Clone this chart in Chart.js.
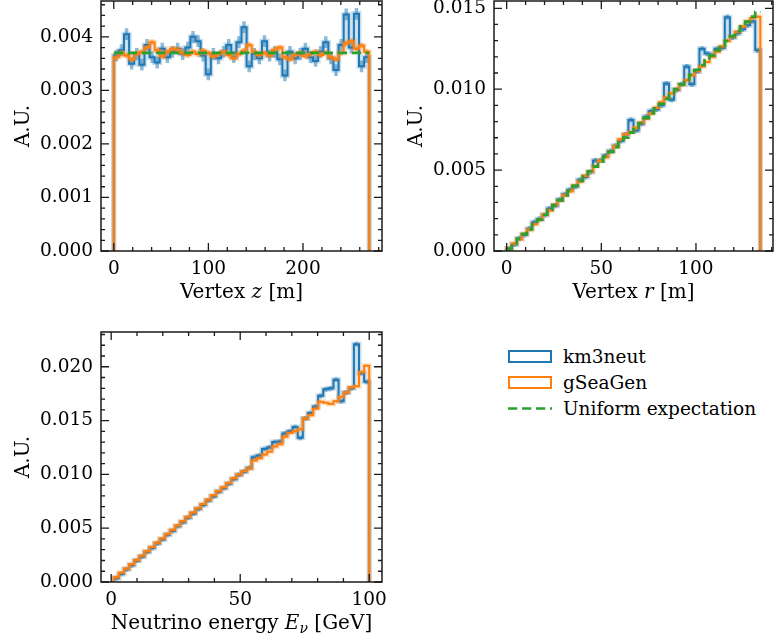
<!DOCTYPE html>
<html>
<head>
<meta charset="utf-8">
<script src="https://cdn.jsdelivr.net/npm/chart.js@4.4.1/dist/chart.umd.min.js"></script>
<style>
  body { margin: 0; background: #fff; width: 774px; height: 644px; position: relative; overflow: hidden; font-family: 'DejaVu Serif', serif; }
  .panel { position: absolute; }
  #legend { position: absolute; left: 508px; top: 343px; font-size: 18.5px; color: #000; }
  .row { display: flex; align-items: center; height: 26px; }
  .sw { width: 44px; height: 13px; box-sizing: border-box; margin-right: 11px; }
</style>
</head>
<body>
<canvas id="cZ" class="panel" style="left:0;top:0" width="390" height="310"></canvas>
<canvas id="cR" class="panel" style="left:395px;top:0" width="379" height="310"></canvas>
<canvas id="cE" class="panel" style="left:0;top:320px" width="390" height="324"></canvas>
<div id="legend">
  <div class="row"><div class="sw" style="border:2px solid #1f77b4"></div>km3neut</div>
  <div class="row"><div class="sw" style="border:2px solid #ff7f0e"></div>gSeaGen</div>
  <div class="row"><svg class="sw" width="44" height="13"><line x1="0" y1="6.5" x2="44" y2="6.5" stroke="#2ca02c" stroke-width="2.7" stroke-dasharray="9.3 4.7"/></svg>Uniform expectation</div>
</div>
<script>
const FONT = "'DejaVu Serif', serif";
const BLUE = '#1f77b4', ORANGE = '#ff7f0e', GREEN = '#2ca02c';

/* ---------- Vertex z: 50 bins over 0..270 m ---------- */
const Z_RANGE = [0, 270];
const Z_KM3 = [
  0.00365, 0.00375, 0.00405, 0.00350, 0.00368, 0.00348, 0.00385, 0.00362, 0.00352, 0.00378,
  0.00362, 0.00372, 0.00378, 0.00368, 0.00380, 0.00400, 0.00392, 0.00365, 0.00330, 0.00368,
  0.00360, 0.00372, 0.00385, 0.00362, 0.00390, 0.00418, 0.00345, 0.00368, 0.00360, 0.00392,
  0.00365, 0.00372, 0.00358, 0.00328, 0.00372, 0.00360, 0.00368, 0.00378, 0.00362, 0.00355,
  0.00372, 0.00390, 0.00360, 0.00338, 0.00385, 0.00442, 0.00380, 0.00443, 0.00345, 0.00362
];
const Z_GSG = [
  0.00362, 0.00370, 0.00365, 0.00358, 0.00368, 0.00372, 0.00380, 0.00390, 0.00375, 0.00364,
  0.00372, 0.00378, 0.00376, 0.00370, 0.00366, 0.00372, 0.00368, 0.00374, 0.00370, 0.00364,
  0.00368, 0.00372, 0.00366, 0.00360, 0.00368, 0.00374, 0.00385, 0.00372, 0.00366, 0.00370,
  0.00365, 0.00376, 0.00380, 0.00362, 0.00358, 0.00366, 0.00370, 0.00364, 0.00368, 0.00372,
  0.00366, 0.00370, 0.00362, 0.00358, 0.00370, 0.00388, 0.00392, 0.00378, 0.00384, 0.00372
];
const Z_UNIFORM = [0.0037, 0.0037];
const Z_ERR = { km3: 0.00011, gsg: 0.00005 };   // half length of the error bars
const Z_XTICKS = [0, 100, 200];
const Z_YTICKS = [0, 0.001, 0.002, 0.003, 0.004];

/* ---------- Vertex r: 50 bins over 0..134 m ---------- */
const R_RANGE = [0, 134];
const R_KM3 = [
  0.00014, 0.00040, 0.00078, 0.00100, 0.00138, 0.00178, 0.00198, 0.00222, 0.00262, 0.00280,
  0.00318, 0.00350, 0.00378, 0.00398, 0.00440, 0.00458, 0.00488, 0.00560, 0.00560, 0.00590,
  0.00618, 0.00650, 0.00680, 0.00720, 0.00810, 0.00745, 0.00785, 0.00830, 0.00865, 0.00875,
  0.00900, 0.01035, 0.00935, 0.00995, 0.01030, 0.01140, 0.01030, 0.01110, 0.01250, 0.01220,
  0.01210, 0.01250, 0.01255, 0.01445, 0.01320, 0.01345, 0.01370, 0.01395, 0.01420, 0.01240
];
const R_GSG = [
  0.00016, 0.00046, 0.00072, 0.00106, 0.00132, 0.00166, 0.00192, 0.00226, 0.00250, 0.00286,
  0.00312, 0.00345, 0.00370, 0.00405, 0.00430, 0.00465, 0.00490, 0.00525, 0.00558, 0.00580,
  0.00612, 0.00648, 0.00690, 0.00722, 0.00735, 0.00762, 0.00792, 0.00818, 0.00850, 0.00885,
  0.00920, 0.00948, 0.00975, 0.01000, 0.01028, 0.01055, 0.01085, 0.01112, 0.01140, 0.01168,
  0.01200, 0.01232, 0.01265, 0.01298, 0.01325, 0.01355, 0.01388, 0.01418, 0.01440, 0.01448
];
const R_UNIFORM = [
  0.00015, 0.00045, 0.00075, 0.00104, 0.00134, 0.00164, 0.00194, 0.00224, 0.00254, 0.00284,
  0.00313, 0.00343, 0.00373, 0.00403, 0.00433, 0.00463, 0.00493, 0.00522, 0.00552, 0.00582,
  0.00612, 0.00642, 0.00672, 0.00701, 0.00731, 0.00761, 0.00791, 0.00821, 0.00851, 0.00881,
  0.00910, 0.00940, 0.00970, 0.01000, 0.01030, 0.01060, 0.01090, 0.01119, 0.01149, 0.01179,
  0.01209, 0.01239, 0.01269, 0.01298, 0.01328, 0.01358, 0.01388, 0.01418, 0.01448, 0.01478
];
const R_ERR = { km3: 0.00016, gsg: 0.00008 };
const R_XTICKS = [0, 50, 100];
const R_YTICKS = [0, 0.005, 0.010, 0.015];

/* ---------- Neutrino energy: 50 bins over 1..100 GeV ---------- */
const E_RANGE = [1, 100];
const E_KM3 = [
  0.00035, 0.00075, 0.00118, 0.00155, 0.00198, 0.00235, 0.00278, 0.00315, 0.00358, 0.00395,
  0.00438, 0.00475, 0.00518, 0.00555, 0.00598, 0.00635, 0.00678, 0.00715, 0.00758, 0.00795,
  0.00838, 0.00872, 0.00912, 0.00955, 0.00995, 0.01025, 0.01060, 0.01160, 0.01175, 0.01235,
  0.01250, 0.01300, 0.01305, 0.01380, 0.01400, 0.01440, 0.01340, 0.01520, 0.01570, 0.01630,
  0.01730, 0.01790, 0.01800, 0.01880, 0.01680, 0.01760, 0.01800, 0.02210, 0.01940, 0.01860
];
const E_GSG = [
  0.00045, 0.00085, 0.00125, 0.00165, 0.00205, 0.00245, 0.00285, 0.00325, 0.00365, 0.00405,
  0.00445, 0.00485, 0.00525, 0.00565, 0.00605, 0.00645, 0.00685, 0.00725, 0.00765, 0.00805,
  0.00845, 0.00880, 0.00920, 0.00965, 0.01000, 0.01030, 0.01055, 0.01130, 0.01150, 0.01185,
  0.01210, 0.01260, 0.01280, 0.01350, 0.01385, 0.01400, 0.01420, 0.01520, 0.01550, 0.01610,
  0.01675, 0.01665, 0.01655, 0.01680, 0.01720, 0.01760, 0.01810, 0.01820, 0.01950, 0.02010
];
const E_ERR = { km3: 0.00022, gsg: 0.00010 };
const E_XTICKS = [0, 50, 100];
const E_YTICKS = [0, 0.005, 0.010, 0.015, 0.020];

function binEdges(range, n) {
  const w = (range[1] - range[0]) / n;
  const out = [];
  for (let i = 0; i <= n; i++) out.push(range[0] + i * w);
  return out;
}

// histtype='step' outline; closed=true adds the vertical edges down to zero
function stepPoints(range, vals, closed) {
  const e = binEdges(range, vals.length);
  const pts = closed ? [{ x: e[0], y: 0 }] : [];
  vals.forEach((v, i) => pts.push({ x: e[i], y: v }));
  pts.push({ x: e[vals.length], y: closed ? 0 : vals[vals.length - 1] });
  return pts;
}

// vertical error bars at bin centres, separated by gaps
function errPoints(range, vals, err) {
  const e = binEdges(range, vals.length);
  const pts = [];
  vals.forEach((v, i) => {
    const c = (e[i] + e[i + 1]) / 2;
    pts.push({ x: c, y: v - err }, { x: c, y: v + err }, { x: c, y: null });
  });
  return pts;
}

function histSets(range, km3, gsg, err, uniform) {
  const sets = [];
  if (uniform) sets.push({ label: 'Uniform expectation', data: stepPoints(range, uniform, false), stepped: true,
    borderColor: GREEN, borderWidth: 2.7, borderDash: [9.3, 4.7], order: 0 });
  const o = stepPoints(range, gsg, true), b = stepPoints(range, km3, true);
  sets.push({ label: 'gSeaGen', data: o, borderColor: ORANGE, borderWidth: 2, stepped: true, order: 1 });
  sets.push({ label: 'gSeaGen err', data: errPoints(range, gsg, err.gsg), borderColor: 'rgba(255,127,14,0.5)', borderWidth: 3.5, spanGaps: false, order: 2 });
  sets.push({ label: 'gSeaGen halo', data: o, borderColor: 'rgba(255,127,14,0.25)', borderWidth: 5, stepped: true, order: 3 });
  sets.push({ label: 'km3neut', data: b, borderColor: BLUE, borderWidth: 2, stepped: true, order: 4 });
  sets.push({ label: 'km3neut err', data: errPoints(range, km3, err.km3), borderColor: 'rgba(31,119,180,0.5)', borderWidth: 3.5, spanGaps: false, order: 5 });
  sets.push({ label: 'km3neut halo', data: b, borderColor: 'rgba(31,119,180,0.25)', borderWidth: 5, stepped: true, order: 6 });
  return sets;
}

// matplotlib-like frame, inward ticks on all four sides, mixed-font x label
const framePlugin = {
  id: 'frame',
  afterDraw(chart, args, o) {
    const { ctx, chartArea: a, scales: { x, y } } = chart;
    ctx.save();
    ctx.strokeStyle = '#1a1a1a';
    ctx.lineWidth = 1.3;
    const minors = (sc, step, majors) => {
      const out = [];
      for (let v = Math.ceil(sc.min / step) * step; v <= sc.max + 1e-12; v += step) {
        if (!majors.some(m => Math.abs(m - v) < step / 10)) out.push(v);
      }
      return out;
    };
    const xt = (v, len) => {
      const p = x.getPixelForValue(v);
      ctx.beginPath();
      ctx.moveTo(p, a.bottom); ctx.lineTo(p, a.bottom - len);
      ctx.moveTo(p, a.top); ctx.lineTo(p, a.top + len);
      ctx.stroke();
    };
    const yt = (v, len) => {
      const p = y.getPixelForValue(v);
      ctx.beginPath();
      ctx.moveTo(a.left, p); ctx.lineTo(a.left + len, p);
      ctx.moveTo(a.right, p); ctx.lineTo(a.right - len, p);
      ctx.stroke();
    };
    o.xTicks.forEach(v => xt(v, 8));
    minors(x, o.xMinor, o.xTicks).forEach(v => xt(v, 4));
    o.yTicks.forEach(v => yt(v, 8));
    minors(y, o.yMinor, o.yTicks).forEach(v => yt(v, 4));
    ctx.lineWidth = 1.5;
    ctx.strokeRect(a.left, a.top, a.right - a.left, a.bottom - a.top);

    // x label
    ctx.fillStyle = '#000';
    ctx.textBaseline = 'alphabetic';
    const fontOf = p => `${p.i ? 'italic ' : ''}${p.sub ? 14 : 20}px ${FONT}`;
    let total = 0;
    o.xLabel.forEach(p => { ctx.font = fontOf(p); total += ctx.measureText(p.t).width; });
    let cx = (a.left + a.right) / 2 - total / 2;
    const base = a.bottom + 47;
    o.xLabel.forEach(p => {
      ctx.font = fontOf(p);
      ctx.fillText(p.t, cx, base + (p.sub ? 4 : 0));
      cx += ctx.measureText(p.t).width;
    });
    // y label
    ctx.translate(a.left - 78.5, (a.top + a.bottom) / 2);
    ctx.rotate(-Math.PI / 2);
    ctx.font = `20px ${FONT}`;
    ctx.textAlign = 'center';
    ctx.textBaseline = 'middle';
    ctx.fillText('A.U.', 0, 1);
    ctx.restore();
  }
};

function makePanel(id, s) {
  const cv = document.getElementById(id);
  const W = cv.width, H = cv.height;
  const span = s.range[1] - s.range[0];
  const tickFont = { family: FONT, size: 18.5 };
  return new Chart(cv, {
    type: 'line',
    data: { datasets: s.datasets },
    options: {
      responsive: false, animation: false, events: [], devicePixelRatio: 1,
      layout: { autoPadding: false, padding: { left: 0, top: s.area.top, right: W - s.area.right, bottom: 0 } },
      elements: { point: { radius: 0 }, line: { tension: 0, fill: false, borderJoinStyle: 'miter', borderCapStyle: 'butt' } },
      scales: {
        x: {
          type: 'linear', offset: false,
          min: s.range[0] - 0.05 * span, max: s.range[1] + 0.05 * span,
          grid: { display: false, drawTicks: false }, border: { display: false },
          ticks: { font: tickFont, color: '#000', padding: 7, maxRotation: 0, autoSkip: false,
            callback: v => String(v) },
          afterBuildTicks: sc => { sc.ticks = s.xTicks.map(v => ({ value: v })); },
          afterFit: sc => { sc.height = H - s.area.bottom; sc.paddingLeft = 0; sc.paddingRight = 0; }
        },
        y: {
          type: 'linear', min: 0, max: s.yMax,
          grid: { display: false, drawTicks: false }, border: { display: false },
          ticks: { font: tickFont, color: '#000', padding: 8, autoSkip: false,
            callback: v => v.toFixed(3) },
          afterBuildTicks: sc => { sc.ticks = s.yTicks.map(v => ({ value: v })); },
          afterFit: sc => { sc.width = s.area.left; sc.paddingTop = 0; sc.paddingBottom = 0; }
        }
      },
      plugins: {
        legend: { display: false }, tooltip: { enabled: false },
        frame: { xTicks: s.xTicks, yTicks: s.yTicks, xMinor: s.xMinor, yMinor: s.yMinor, xLabel: s.xLabel }
      }
    },
    plugins: [framePlugin]
  });
}

makePanel('cZ', {
  range: Z_RANGE, yMax: 0.00467, xTicks: Z_XTICKS, yTicks: Z_YTICKS, xMinor: 20, yMinor: 0.0002,
  area: { left: 101, top: 1, right: 382, bottom: 251 },
  xLabel: [{ t: 'Vertex ' }, { t: 'z', i: true }, { t: ' [m]' }],
  datasets: histSets(Z_RANGE, Z_KM3, Z_GSG, Z_ERR, Z_UNIFORM)
});
makePanel('cR', {
  range: R_RANGE, yMax: 0.01545, xTicks: R_XTICKS, yTicks: R_YTICKS, xMinor: 10, yMinor: 0.001,
  area: { left: 99, top: 1, right: 378, bottom: 251 },
  xLabel: [{ t: 'Vertex ' }, { t: 'r', i: true }, { t: ' [m]' }],
  datasets: histSets(R_RANGE, R_KM3, R_GSG, R_ERR, R_UNIFORM)
});
makePanel('cE', {
  range: E_RANGE, yMax: 0.02323, xTicks: E_XTICKS, yTicks: E_YTICKS, xMinor: 10, yMinor: 0.001,
  area: { left: 101, top: 12, right: 382, bottom: 262 },
  xLabel: [{ t: 'Neutrino energy ' }, { t: 'E', i: true }, { t: 'ν', i: true, sub: true }, { t: ' [GeV]' }],
  datasets: histSets(E_RANGE, E_KM3, E_GSG, E_ERR)
});
</script>
</body>
</html>
